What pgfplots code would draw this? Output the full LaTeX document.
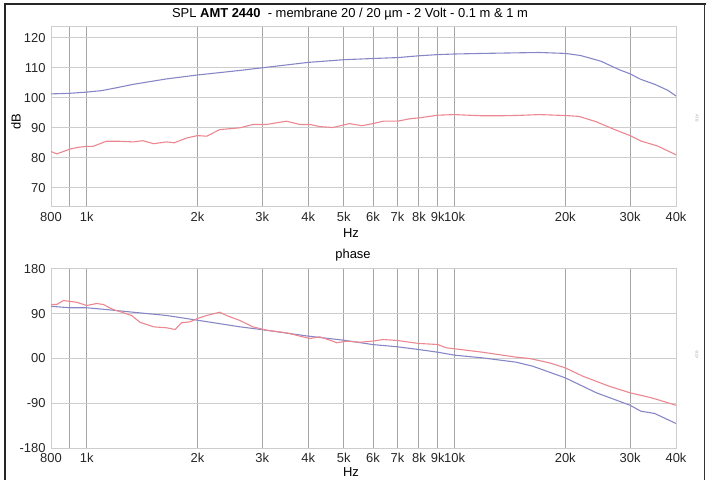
\documentclass[border=0pt]{standalone}
\usepackage{pgfplots}
\pgfplotsset{compat=1.18}
\usepackage{fontspec}
\setmainfont{Liberation Sans}
\definecolor{cblue}{RGB}{135,135,200}
\definecolor{cred}{RGB}{236,135,145}
\definecolor{vgrid}{RGB}{165,165,165}
\definecolor{hgrid}{RGB}{205,205,205}
\pgfplotsset{
  splbase/.style={
    scale only axis, width=625bp,
    xmin=800, xmax=40000,
    xtick={800,900,1000,2000,3000,4000,5000,6000,7000,8000,9000,10000,20000,30000,40000},
    xticklabels={800,,1k,2k,3k,4k,5k,6k,7k,8k,9k,10k,20k,30k,40k},
    major tick length=0pt, minor tick num=0,
    xmajorgrids, ymajorgrids,
    x grid style={vgrid,line width=0.8bp},
    y grid style={hgrid,line width=1.0bp},
    axis line style={hgrid,line width=1.0bp},
    tick label style={font=\fontsize{13}{15}\selectfont, text=black!85},
    xticklabel style={yshift=-1bp},
    yticklabel style={xshift=-1bp},
  }
}
\begin{document}
\begin{tikzpicture}
\fontsize{13}{15}\selectfont
\path[use as bounding box] (0,0) rectangle (706bp,480bp);
% outer frame
\draw[line width=2.2bp,black!85] (5bp,0bp) -- (5bp,476bp) -- (706bp,476bp);
\draw[line width=0.8bp,black!80] (704.5bp,476bp) -- (704.5bp,0bp);
% ---------- top: SPL ----------
\begin{semilogxaxis}[splbase, at={(51bp,273bp)}, anchor=south west, height=180bp,
  ymin=63.6, ymax=123.6, ytick={70,80,90,100,110,120},
  yticklabels={70,80,90,100,110,120}]
\addplot[cblue, line width=1.1bp] coordinates {
(800,101.3)(900,101.5)(1000,101.9)(1100,102.4)(1200,103.3)(1340,104.5)(1650,106.3)(2000,107.6)(2600,109.1)(3000,110.0)(4000,111.8)(5000,112.7)(6000,113.1)(7000,113.4)(8000,114.0)(9000,114.4)(10000,114.6)(12000,114.8)(15000,115.0)(17000,115.1)(20000,114.8)(22000,114.1)(25000,112.2)(28000,109.4)(30000,108.0)(32000,106.2)(35000,104.5)(38000,102.5)(40000,100.6)};
\addplot[cred, line width=1.1bp] coordinates {
(800,82.1)(829,81.3)(860,82.0)(900,82.9)(950,83.5)(1000,83.8)(1040,83.8)(1130,85.5)(1230,85.5)(1340,85.3)(1420,85.7)(1520,84.7)(1650,85.3)(1730,85.0)(1870,86.6)(2000,87.4)(2120,87.2)(2300,89.4)(2610,90.0)(2830,91.1)(3080,91.1)(3490,92.2)(3800,91.1)(4050,91.1)(4300,90.4)(4670,90.1)(5180,91.4)(5600,90.7)(6000,91.4)(6400,92.2)(7000,92.2)(7550,93.0)(8000,93.3)(9000,94.2)(10000,94.4)(11900,94.0)(13200,94.0)(14700,94.1)(17000,94.4)(20000,94.1)(21800,93.8)(24300,92.0)(27000,89.6)(30000,87.4)(32100,85.6)(35700,83.9)(40000,81.0)};
\end{semilogxaxis}
% ---------- bottom: phase ----------
\begin{semilogxaxis}[splbase, at={(51bp,32bp)}, anchor=south west, height=179bp,
  ymin=-180, ymax=180, ytick={-180,-90,0,90,180},
  yticklabels={-180,-90,00,90,180}]
\addplot[cblue, line width=1.1bp] coordinates {
(800,105)(900,102)(1000,102)(1130,98.5)(1340,93)(1650,86.5)(2000,77)(2610,63.7)(3000,58)(4000,45)(5000,36.8)(6000,28)(7000,23.5)(8000,18)(9000,12.7)(10000,6.7)(11900,1.3)(14700,-7.4)(16300,-15.4)(20000,-38.9)(24300,-69)(30000,-94)(32100,-106)(35000,-110.6)(40000,-130.7)};
\addplot[cred, line width=1.1bp] coordinates {
(800,108.6)(829,108.6)(864,116.6)(940,113)(1000,106.6)(1065,110.6)(1110,108.6)(1180,98.5)(1260,91.9)(1325,86.5)(1395,73)(1520,63.7)(1650,61.7)(1740,58.3)(1810,71.8)(1910,73.8)(2000,80.4)(2120,86.5)(2300,93.1)(2400,86.5)(2610,76.4)(2830,63.7)(3080,57)(3490,51.7)(3800,45)(4050,40.2)(4300,43.6)(4670,34.8)(4780,31.6)(5080,34.8)(5530,32.8)(6000,35)(6400,38.2)(7000,36.2)(8000,30.2)(9000,28.2)(9500,21.5)(10000,19.5)(11900,12.7)(14700,2.7)(16000,0)(18100,-8.7)(20000,-18.8)(22300,-35.5)(26300,-55.7)(30000,-69)(34300,-79)(40000,-94)};
\end{semilogxaxis}
% ---------- texts ----------
\node at (350bp,466bp) {SPL \textbf{AMT 2440}\ \ - membrane 20 / 20 µm - 2 Volt - 0.1 m \& 1 m};
\node[rotate=90] at (16bp,358bp) {dB};
\node at (351bp,247bp) {Hz};
\node at (353bp,225bp) {phase};
\node at (351bp,8bp) {Hz};
\node[rotate=-90, text=black!35, font=\fontsize{4}{5}\selectfont] at (697bp,362bp) {ATB};
\node[rotate=90, text=black!35, font=\fontsize{4}{5}\selectfont] at (697bp,125bp) {ATB};
\end{tikzpicture}
\end{document}
